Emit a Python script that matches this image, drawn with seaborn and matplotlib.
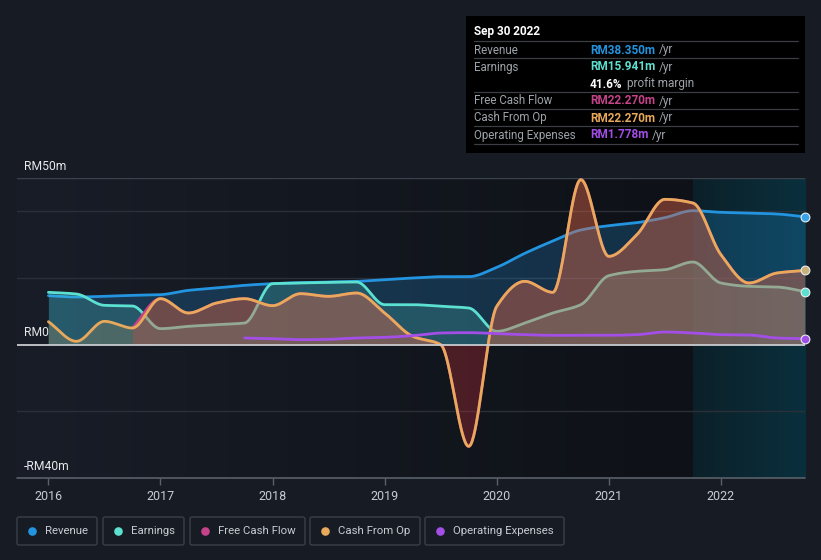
import numpy as np
import pandas as pd
import matplotlib
matplotlib.use("Agg")
import matplotlib.pyplot as plt
import seaborn as sns
from matplotlib.patches import FancyBboxPatch, Rectangle
from matplotlib.colors import LinearSegmentedColormap

# ---------------- data (RM millions, trailing twelve months) ----------------
periods = [2016.0, 2016.25, 2016.5, 2016.75, 2017.0, 2017.25, 2017.5, 2017.75,
           2018.0, 2018.25, 2018.5, 2018.75, 2019.0, 2019.25, 2019.5, 2019.75,
           2020.0, 2020.25, 2020.5, 2020.75, 2021.0, 2021.25, 2021.5, 2021.75,
           2022.0, 2022.25, 2022.5, 2022.75]
revenue = [14.7, 14.3, 14.5, 14.8, 15.0, 16.3, 17.0, 17.8,
           18.3, 18.6, 18.8, 19.0, 19.5, 20.0, 20.4, 20.4,
           23.2, 27.4, 31.1, 34.4, 35.7, 36.6, 38.1, 40.2,
           39.7, 39.5, 39.2, 38.35]
earnings = [15.7, 15.2, 11.8, 11.6, 4.8, 5.5, 6.0, 6.5,
            18.3, 18.5, 18.7, 18.8, 12.0, 12.0, 11.5, 11.0,
            4.0, 6.5, 9.5, 12.0, 20.7, 22.0, 22.5, 24.8,
            18.5, 17.5, 17.3, 15.941]
cash_from_op = [6.9, 1.0, 7.0, 5.0, 13.8, 9.5, 12.5, 13.8,
                11.7, 15.3, 14.5, 15.5, 9.5, 2.5, 0.0, -30.5,
                11.5, 19.0, 15.7, 49.5, 26.5, 33.0, 43.6, 42.5,
                27.0, 18.5, 21.5, 22.27]
fcf_periods = periods[3:]
free_cash_flow = [5.0, 13.8, 9.5, 12.5, 13.8,
                  11.7, 15.3, 14.5, 15.5, 9.5, 2.5, 0.0, -30.5,
                  11.5, 19.0, 15.7, 49.5, 26.5, 33.0, 43.6, 42.5,
                  27.0, 18.5, 21.5, 22.27]
opex_periods = periods[7:]
operating_expenses = [2.0, 1.8, 1.5, 1.6, 2.0, 2.2, 2.7, 3.5, 3.6,
                      3.3, 3.0, 2.8, 2.8, 2.8, 3.0, 3.8, 3.5,
                      3.0, 2.9, 2.0, 1.778]
year_ticks = [2016, 2017, 2018, 2019, 2020, 2021, 2022]
year_labels = ["2016", "2017", "2018", "2019", "2020", "2021", "2022"]
legend_names = ["Revenue", "Earnings", "Free Cash Flow", "Cash From Op", "Operating Expenses"]

C_REV = "#2394df"
C_EARN = "#5ce0cf"
C_FCF = "#c6428a"
C_CFO = "#e9a95b"
C_OPEX = "#a44ee8"
BG = "#161b24"


def smooth(x, y, n=40):
    """Monotone cubic (Fritsch-Carlson) curve through the given points, for drawing."""
    x = np.asarray(x, float); y = np.asarray(y, float)
    h = np.diff(x); d = np.diff(y) / h
    m = np.zeros_like(y)
    m[0], m[-1] = d[0], d[-1]
    for k in range(1, len(y) - 1):
        if d[k - 1] * d[k] <= 0:
            m[k] = 0.0
        else:
            w1 = 2 * h[k] + h[k - 1]; w2 = h[k] + 2 * h[k - 1]
            m[k] = (w1 + w2) / (w1 / d[k - 1] + w2 / d[k])
    xs, ys = [], []
    for k in range(len(h)):
        t = np.linspace(0, 1, n, endpoint=(k == len(h) - 1))
        h00 = 2 * t**3 - 3 * t**2 + 1; h10 = t**3 - 2 * t**2 + t
        h01 = -2 * t**3 + 3 * t**2; h11 = t**3 - t**2
        xs.append(x[k] + t * h[k])
        ys.append(h00 * y[k] + h10 * h[k] * m[k] + h01 * y[k + 1] + h11 * h[k] * m[k + 1])
    return pd.DataFrame({"t": np.concatenate(xs), "v": np.concatenate(ys)})


sns.set_theme(style="dark")
plt.rcParams["font.family"] = ["Roboto", "DejaVu Sans"]

W, H = 821, 560
fig = plt.figure(figsize=(W / 100, H / 100), dpi=100, facecolor=BG)
ax = fig.add_axes([17 / W, 1 - 478 / H, 788 / W, 300 / H])
ax.set_facecolor(BG)
XMIN, XMAX, YMIN, YMAX = 2015.72, 2022.75, -40, 50

# background gradients
bg_cmap = LinearSegmentedColormap.from_list("bg", ["#181d27", "#0e1117"])
ax.imshow(np.linspace(0, 1, 256)[None, :], cmap=bg_cmap, aspect="auto",
          extent=[XMIN, 2021.75, YMIN, YMAX], zorder=0)
hl_cmap = LinearSegmentedColormap.from_list("hl", ["#0c2029", "#09303d"])
ax.imshow(np.linspace(0, 1, 256)[None, :], cmap=hl_cmap, aspect="auto",
          extent=[2021.75, XMAX, YMIN, YMAX], zorder=0)
ax.set_xlim(XMIN, XMAX)
ax.set_ylim(YMIN, YMAX)

# grid lines
for gy in [40, 20, -20]:
    ax.axhline(gy, color="#2a2f38", lw=1.0, zorder=1)
ax.axhline(50, color="#3c424c", lw=1.0, zorder=1)
ax.axhline(-40, color="#5a6069", lw=1.2, zorder=1, clip_on=False)

# Revenue
rv = smooth(periods, revenue)
ax.fill_between(rv["t"], rv["v"], 0, color=C_REV, alpha=0.24, lw=0, zorder=2)
sns.lineplot(data=rv, x="t", y="v", ax=ax, color=C_REV, lw=2.0, zorder=3, estimator=None, sort=False)

# Earnings
ev = smooth(periods, earnings)
ax.fill_between(ev["t"], ev["v"], 0, color=C_EARN, alpha=0.2, lw=0, zorder=4)
sns.lineplot(data=ev, x="t", y="v", ax=ax, color=C_EARN, lw=2.0, zorder=5, estimator=None, sort=False)

# Free cash flow
fv = smooth(fcf_periods, free_cash_flow)
ax.fill_between(fv["t"], fv["v"], 0, color="#d4303a", alpha=0.3, lw=0, zorder=6)
sns.lineplot(data=fv, x="t", y="v", ax=ax, color=C_FCF, lw=2.0, zorder=7, estimator=None, sort=False)

# Cash from operations
cv = smooth(periods, cash_from_op)
ax.fill_between(cv["t"], cv["v"], 0, where=cv["v"] >= 0, interpolate=True,
                color=C_CFO, alpha=0.2, lw=0, zorder=8)
sns.lineplot(data=cv, x="t", y="v", ax=ax, color=C_CFO, lw=2.0, zorder=9, estimator=None, sort=False)

# Operating expenses
ov = smooth(opex_periods, operating_expenses)
sns.lineplot(data=ov, x="t", y="v", ax=ax, color=C_OPEX, lw=2.0, zorder=10, estimator=None, sort=False)

# zero line
ax.axhline(0, color="#c9cbcf", lw=1.3, zorder=11)

# end markers
for yv, c in [(revenue[-1], "#3aa3e8"), (earnings[-1], C_EARN),
              (cash_from_op[-1], "#c9b27a"), (operating_expenses[-1], C_OPEX)]:
    ax.scatter([periods[-1]], [yv], s=40, color=c, edgecolor="#e8eef2", linewidth=0.8,
               zorder=12, clip_on=False)

# axes cosmetics
ax.set_xlabel(""); ax.set_ylabel("")
ax.set_yticks([])
ax.set_xticks(year_ticks)
ax.set_xticklabels(year_labels, color="#c8ccd2", fontsize=9)
ax.tick_params(axis="x", length=5, width=1, color="#5a6069", pad=4, bottom=True)
ax.grid(False)
for s in ax.spines.values():
    s.set_visible(False)

# y labels
def px(x, y):
    return x / W, 1 - y / H

for txt, yy in [("RM50m", 167), ("RM0", 333), ("-RM40m", 466)]:
    fig.text(*px(24, yy), txt, color="#e6e8eb", fontsize=8.7, va="center", ha="left", zorder=20)

# tooltip
fig.patches.append(Rectangle(px(466, 153), 339 / W, 137 / H, transform=fig.transFigure,
                             facecolor="#000000", edgecolor="none", zorder=15))
for ly in [41, 58, 92, 109, 126, 144]:
    fig.add_artist(plt.Line2D([474 / W, 798 / W], [1 - ly / H] * 2, color="#3b3f45", lw=0.9, zorder=16))
fig.text(*px(474, 31), "Sep 30 2022", color="#ffffff", fontsize=8.5, fontweight="bold",
         va="center", ha="left", zorder=17)
rows = [("Revenue", "RM38.350m", C_REV, 50),
        ("Earnings", "RM15.941m", C_EARN, 67),
        ("Free Cash Flow", "RM22.270m", C_FCF, 101),
        ("Cash From Op", "RM22.270m", C_CFO, 118),
        ("Operating Expenses", "RM1.778m", C_OPEX, 135)]
fig.canvas.draw()
renderer = fig.canvas.get_renderer()
for lab, val, col, yy in rows:
    fig.text(*px(474, yy), lab, color="#9ea3aa", fontsize=8.3, va="center", ha="left", zorder=17)
    t = fig.text(*px(590, yy), val, color=col, fontsize=8.5, fontweight="bold",
                 va="center", ha="left", zorder=17)
    bb = t.get_window_extent(renderer)
    fig.text(*px(bb.x1 + 4, yy), "/yr", color="#9ea3aa", fontsize=8.5, va="center", ha="left", zorder=17)
t = fig.text(*px(590, 84), "41.6%", color="#ffffff", fontsize=8.5, fontweight="bold",
             va="center", ha="left", zorder=17)
bb = t.get_window_extent(renderer)
fig.text(*px(bb.x1 + 4, 84), "profit margin", color="#9ea3aa", fontsize=8.5,
         va="center", ha="left", zorder=17)

# legend
legend_cols = [C_REV, C_EARN, C_FCF, C_CFO, C_OPEX]
boxes = [(17, 97), (103, 184), (190, 305), (310, 420), (425, 564)]
for (x0, x1), name, col in zip(boxes, legend_names, legend_cols):
    fig.patches.append(FancyBboxPatch(px(x0, 545), (x1 - x0) / W, 28 / H,
                                      boxstyle="round,pad=0,rounding_size=0.003",
                                      transform=fig.transFigure, facecolor="none",
                                      edgecolor="#3a3f48", lw=1.0, zorder=15))
    dx, dy = px(x0 + 15, 531)
    fig.add_artist(plt.Line2D([dx], [dy], marker="o", markersize=6.2, color=col,
                              markeredgewidth=0, linestyle="none", zorder=16))
    fig.text(*px(x0 + 28, 531), name, color="#c8ccd2", fontsize=8.2, va="center", ha="left", zorder=17)

fig.savefig("out.png", dpi=100, facecolor=BG)
